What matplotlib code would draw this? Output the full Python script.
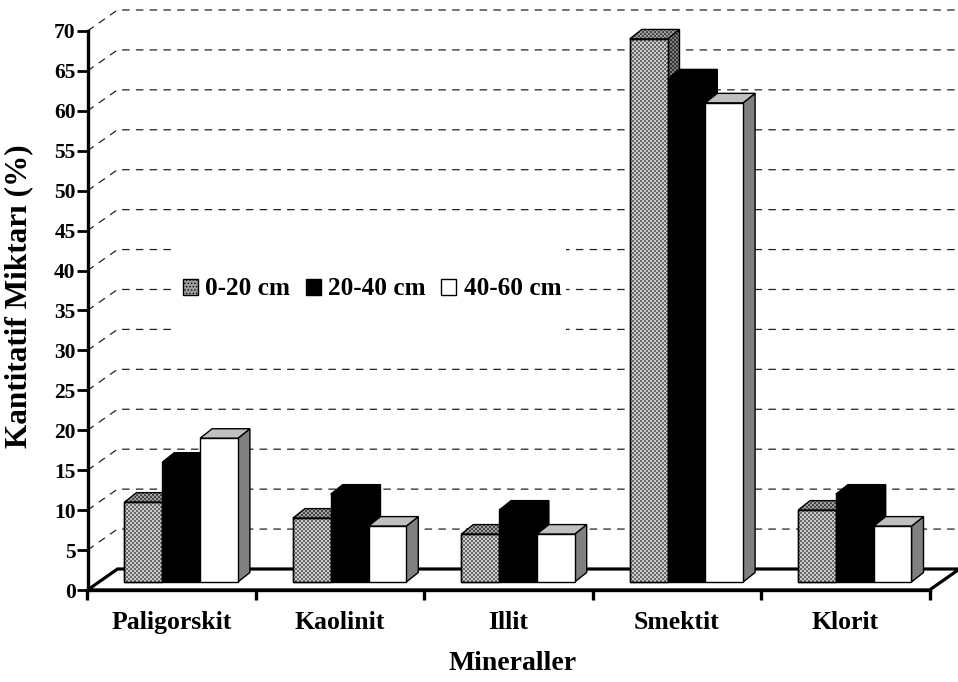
import numpy as np
import matplotlib.pyplot as plt
from matplotlib.patches import Polygon, Patch, Rectangle
from matplotlib.colors import ListedColormap

minerals = ['Paligorskit', 'Kaolinit', 'Illit', 'Smektit', 'Klorit']
depths = ['0-20 cm', '20-40 cm', '40-60 cm']
v_0_20 = [10, 8, 6, 68, 9]
v_20_40 = [15, 11, 9, 63, 11]
v_40_60 = [18, 7, 6, 60, 7]
y_ticks = list(range(0, 75, 5))

plt.rcParams['font.family'] = 'Liberation Serif'
plt.rcParams['font.weight'] = 'bold'
plt.rcParams['axes.labelweight'] = 'bold'
plt.rcParams['hatch.linewidth'] = 0.6

W, H = 958, 682
fig = plt.figure(figsize=(W / 100, H / 100), dpi=100)

# pixel scale of the chart: one category / one percent
px_x = 168.4
px_y = 7.986
x_max, y_max = 4.75, 75
ax = fig.add_axes([87.5 / W, 92 / H, (x_max + 0.5) * px_x / W, y_max * px_y / H])
ax.set_xlim(-0.5, x_max)
ax.set_ylim(0, y_max)

# oblique depth offsets (floor, bar position, bar thickness)
fdx, fdy = 30 / px_x, 21 / px_y
odx, ody = 9 / px_x, 8 / px_y
bdx, bdy = 12 / px_x, 9.5 / px_y
bw = 37.8 / px_x


def textured(xy, dark, light, z, cell=2):
    xy = np.asarray(xy, dtype=float)
    outline = Polygon(xy, closed=True, fc='none', ec='black', lw=1.0, zorder=z + 0.05)
    ax.add_patch(outline)
    x0, y0 = xy.min(axis=0)
    x1, y1 = xy.max(axis=0)
    nx = max(1, int(round((x1 - x0) * px_x / cell)))
    ny = max(1, int(round((y1 - y0) * px_y / cell)))
    cells = np.add.outer(np.arange(ny), np.arange(nx)) % 2
    im = ax.imshow(cells, cmap=ListedColormap([light, dark]), extent=(x0, x1, y0, y1),
                   origin='lower', interpolation='nearest', aspect='auto', zorder=z)
    im.set_clip_path(outline)
    return outline


def face(xy, color, z):
    if isinstance(color, tuple):
        return textured(xy, color[0], color[1], z)
    p = Polygon(xy, closed=True, fc=color, ec='black', lw=1.0, zorder=z)
    ax.add_patch(p)
    return p


# back wall grid lines, running up the left side first
x_end = 4.5 + fdx
for v in y_ticks[1:]:
    ax.plot([-0.5, -0.5 + fdx, x_end], [v, v + fdy, v + fdy], color='#222222',
            lw=0.9, ls=(0, (6, 5)), zorder=1)

# floor
floor = Polygon([(-0.5, 0), (4.5, 0), (4.5 + fdx, fdy), (-0.5 + fdx, fdy)],
                closed=True, fc='white', ec='black', lw=2.3, zorder=2)
ax.add_patch(floor)

series = [v_0_20, v_20_40, v_40_60]
styles = [
    # front, top, side
    (('#686868', '#cccccc'), ('#484848', '#a0a0a0'), ('#333333', '#7c7c7c')),
    ('black', 'black', 'black'),
    ('white', '#c0c0c0', '#808080'),
]
x = np.arange(len(minerals))
start = x - 0.5 + 37 / px_x
for j, (vals, (front_c, top_c, side_c)) in enumerate(zip(series, styles)):
    z = 3 + j
    xl = start + j * bw
    bars = ax.bar(xl, vals, width=bw, bottom=ody, align='edge',
                  color='none' if isinstance(front_c, tuple) else front_c,
                  edgecolor='black', lw=1.0, zorder=z + 0.5)
    for rect in bars:
        x0 = rect.get_x()
        x1 = x0 + rect.get_width()
        y0 = rect.get_y()
        y1 = y0 + rect.get_height()
        face([(x1, y0), (x1 + bdx, y0 + bdy), (x1 + bdx, y1 + bdy), (x1, y1)], side_c, z)
        face([(x0, y1), (x0 + bdx, y1 + bdy), (x1 + bdx, y1 + bdy), (x1, y1)], top_c, z + 0.2)
        if isinstance(front_c, tuple):
            textured([(x0, y0), (x1, y0), (x1, y1), (x0, y1)], front_c[0], front_c[1], z + 0.4)

# axes
for s in ['top', 'right']:
    ax.spines[s].set_visible(False)
ax.spines['left'].set_bounds(0, 70)
ax.spines['bottom'].set_bounds(-0.5, 4.5)
ax.spines['left'].set_linewidth(2.4)
ax.spines['bottom'].set_linewidth(2.4)
ax.spines['left'].set_zorder(7)
ax.spines['bottom'].set_zorder(7)

ax.set_yticks(y_ticks)
ax.set_yticklabels([str(t) for t in y_ticks])
ax.tick_params(axis='y', length=8, width=2, pad=0.5, labelsize=15.5)

ax.set_xticks(np.arange(-0.5, 5, 1))
ax.set_xticklabels([])
ax.set_xticks(x, minor=True)
ax.set_xticklabels(minerals, minor=True)
ax.tick_params(axis='x', which='major', length=7.5, width=2.4)
ax.tick_params(axis='x', which='minor', length=0, pad=15, labelsize=18.5)

ax.set_xlabel('Mineraller', fontsize=20)
ax.xaxis.set_label_coords((513 - 87.5) / ((x_max + 0.5) * px_x), -(651.5 - 590) / (y_max * px_y))
ax.set_ylabel('Kantitatif Miktarı (%)', fontsize=22.5)
ax.yaxis.set_label_coords((33 - 87.5) / ((x_max + 0.5) * px_x), (590 - 296) / (y_max * px_y))

# legend over the back wall
ax.add_patch(Rectangle((174 / W, (H - 335) / H), (566 - 174) / W, 90 / H,
                       transform=fig.transFigure, fc='white', ec='none', zorder=2.5))
handles = [
    Patch(fc='#a0a0a0', ec='black', hatch='.....', lw=1.0),
    Patch(fc='black', ec='black', lw=1.0),
    Patch(fc='white', ec='black', lw=1.0),
]
ax.legend(handles, depths, loc='center', bbox_to_anchor=(372 / W, (H - 289) / H),
          bbox_transform=fig.transFigure, ncol=3, frameon=False, fontsize=18.2,
          handlelength=0.6, handleheight=0.6, handletextpad=0.3, columnspacing=0.6,
          borderaxespad=0, borderpad=0)

fig.savefig('out.png', dpi=100)
